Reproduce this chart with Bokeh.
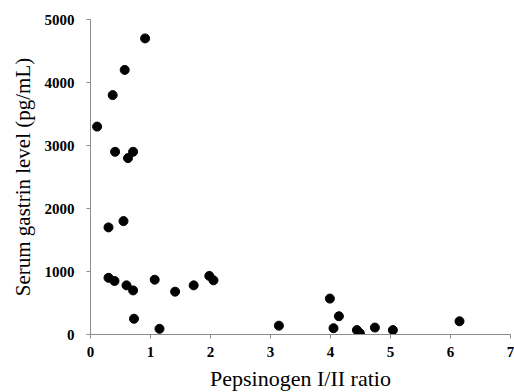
from bokeh.plotting import figure
from bokeh.models import Range1d, Title, FixedTicker
from bokeh.embed import file_html
from bokeh.resources import INLINE

# Pepsinogen I/II ratio
ratio = [0.91, 0.57, 0.37, 0.11, 0.41, 0.625, 0.71, 0.30, 0.55, 0.30,
         0.40, 0.60, 0.71, 0.725, 1.07, 1.15, 1.41, 1.72, 1.98, 2.05,
         3.14, 3.99, 4.14, 4.05, 4.44, 4.49, 4.74, 5.04, 6.15]
# Serum gastrin level (pg/mL)
gastrin = [4700, 4200, 3800, 3300, 2900, 2800, 2900, 1700, 1800, 900,
           850, 780, 700, 250, 870, 90, 680, 780, 930, 860,
           140, 570, 290, 100, 70, 20, 110, 70, 210]

x_ticks = [0, 1, 2, 3, 4, 5, 6, 7]
y_ticks = [0, 1000, 2000, 3000, 4000, 5000]
x_title = "Pepsinogen I/II ratio"
y_title = "Serum gastrin level (pg/mL)"

p = figure(frame_width=420, frame_height=315,
           output_backend="svg", toolbar_location=None,
           x_range=Range1d(0, 7), y_range=Range1d(0, 5000),
           min_border_left=90, min_border_right=4,
           min_border_top=19, min_border_bottom=58)
p.outline_line_color = None
p.xgrid.grid_line_color = None
p.ygrid.grid_line_color = None
p.background_fill_color = "white"
p.border_fill_color = "white"

p.scatter(ratio, gastrin, size=9, color="black", marker="circle")

for ax, ticks in ((p.xaxis, x_ticks), (p.yaxis, y_ticks)):
    ax.ticker = FixedTicker(ticks=ticks)
    ax.minor_tick_line_color = None
    ax.axis_line_color = "#8c8c8c"
    ax.major_tick_line_color = "#8c8c8c"
    ax.major_tick_out = 4
    ax.major_tick_in = 0
    ax.major_label_text_font = "'Liberation Serif'"
    ax.major_label_text_font_style = "bold"
    ax.major_label_text_font_size = "15px"
    ax.major_label_text_color = "black"
p.xaxis.major_label_standoff = 8
p.yaxis.major_label_standoff = 12

p.xaxis.axis_label = x_title
p.xaxis.axis_label_text_font = "'Liberation Serif'"
p.xaxis.axis_label_text_font_style = "normal"
p.xaxis.axis_label_text_font_size = "22px"
p.xaxis.axis_label_text_color = "black"
p.xaxis.axis_label_standoff = 6

p.add_layout(Title(text=y_title, align="center", offset=27, standoff=13,
                   text_font="'Liberation Serif'", text_font_style="normal",
                   text_font_size="21px", text_color="black"), "left")

open("out.html", "w").write(file_html(p, INLINE))
